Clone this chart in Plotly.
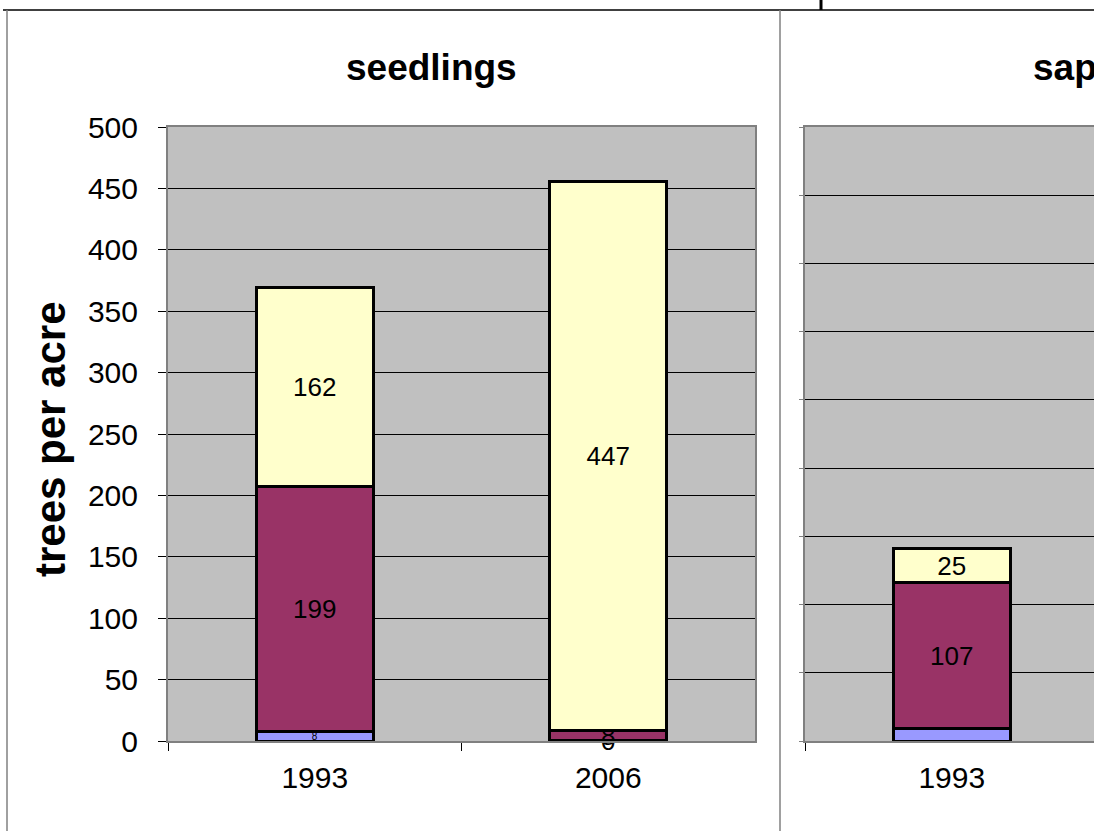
import plotly.graph_objects as go

# data
years = ["1993", "2006"]
seedlings_blue = [8, 0.4]
seedlings_maroon = [199, 8]
seedlings_yellow = [162, 447]

sapling_years = ["1993"]
saplings_blue = [9]
saplings_maroon = [107]
saplings_yellow = [25]

y_ticks_seedlings = [0, 50, 100, 150, 200, 250, 300, 350, 400, 450, 500]

BLUE = "#9999FF"
MAROON = "#993366"
YELLOW = "#FFFFCC"
FONT = "Arial, Liberation Sans, sans-serif"

W, H = 1094, 831


def px_x(v):
    return v / W


def px_y(v):
    return 1 - v / H


def bar(x, y, color, xaxis, yaxis, text, size):
    return go.Bar(
        x=x, y=y, xaxis=xaxis, yaxis=yaxis,
        marker=dict(color=color, line=dict(color="black", width=3)),
        width=0.4,
        text=text,
        textposition="inside",
        insidetextanchor="middle",
        constraintext="none",
        textangle=0,
        cliponaxis=False,
        textfont=dict(family=FONT, color="black", size=size),
        showlegend=False,
        hoverinfo="x+y",
    )


fig = go.Figure()
# seedlings panel
fig.add_trace(bar(years, seedlings_blue, BLUE, "x", "y",
                  [f"{v:.0f}" for v in seedlings_blue], [10, 26]))
fig.add_trace(bar(years, seedlings_maroon, MAROON, "x", "y",
                  [f"{v:.0f}" for v in seedlings_maroon], 26))
fig.add_trace(bar(years, seedlings_yellow, YELLOW, "x", "y",
                  [f"{v:.0f}" for v in seedlings_yellow], 26))
# saplings panel (cut off on the right)
fig.add_trace(bar(sapling_years, saplings_blue, BLUE, "x2", "y2", [""], 26))
fig.add_trace(bar(sapling_years, saplings_maroon, MAROON, "x2", "y2",
                  [f"{v:.0f}" for v in saplings_maroon], 26))
fig.add_trace(bar(sapling_years, saplings_yellow, YELLOW, "x2", "y2",
                  [f"{v:.0f}" for v in saplings_yellow], 26))

axis_common = dict(showline=True, linecolor="#808080", linewidth=2, mirror=True,
                   zeroline=False, automargin=False)

fig.update_layout(
    template="none",
    width=W, height=H,
    margin=dict(l=0, r=0, t=0, b=0, pad=0, autoexpand=False),
    barmode="stack",
    paper_bgcolor="white",
    plot_bgcolor="#C0C0C0",
    font=dict(family=FONT, color="black"),
    xaxis=dict(
        domain=[px_x(168), px_x(755)],
        type="category", categoryorder="array", categoryarray=years,
        range=[-0.5, 1.5],
        ticks="outside", ticklen=8, tickcolor="black", tickson="boundaries",
        tickfont=dict(size=30), ticklabelstandoff=9,
        showgrid=False, anchor="y", **axis_common,
    ),
    yaxis=dict(
        domain=[px_y(741), px_y(127)],
        range=[0, 500], tickvals=y_ticks_seedlings,
        ticks="outside", ticklen=8, tickcolor="black",
        tickfont=dict(size=30), ticklabelstandoff=14,
        showgrid=True, gridcolor="black", gridwidth=1,
        anchor="x", **axis_common,
    ),
    xaxis2=dict(
        domain=[px_x(805), 1],
        type="category", categoryorder="array", categoryarray=years,
        range=[-0.5, -0.5 + (W - 805) / 293.5],
        ticks="outside", ticklen=8, tickcolor="black", tickson="boundaries",
        tickfont=dict(size=30), ticklabelstandoff=9,
        showgrid=False, anchor="y2", **axis_common,
    ),
    yaxis2=dict(
        domain=[px_y(741), px_y(127)],
        range=[0, 450], dtick=50,
        ticks="outside", ticklen=4, tickcolor="#808080",
        showticklabels=False,
        showgrid=True, gridcolor="black", gridwidth=1,
        anchor="x2", **axis_common,
    ),
    annotations=[
        dict(text="<b>seedlings</b>", x=px_x(431), y=px_y(67), xref="paper", yref="paper",
             showarrow=False, font=dict(size=37), xanchor="center", yanchor="middle"),
        dict(text="<b>saplings</b>", x=px_x(1108), y=px_y(67), xref="paper", yref="paper",
             showarrow=False, font=dict(size=37), xanchor="center", yanchor="middle"),
        dict(text="<b>trees per acre</b>", x=px_x(50), y=px_y(439), xref="paper", yref="paper",
             showarrow=False, font=dict(size=42), textangle=-90,
             xanchor="center", yanchor="middle"),
    ],
    shapes=[
        dict(type="line", xref="paper", yref="paper", x0=px_x(3), x1=1,
             y0=px_y(10), y1=px_y(10), line=dict(color="black", width=1.5)),
        dict(type="line", xref="paper", yref="paper", x0=px_x(821), x1=px_x(821),
             y0=1, y1=px_y(10), line=dict(color="black", width=3)),
        dict(type="line", xref="paper", yref="paper", x0=px_x(7), x1=px_x(7),
             y0=px_y(10), y1=0, line=dict(color="#808080", width=1.5)),
        dict(type="line", xref="paper", yref="paper", x0=px_x(780), x1=px_x(780),
             y0=px_y(10), y1=0, line=dict(color="#808080", width=1.5)),
    ],
)

fig.write_html(
    "out.html",
    config={"displayModeBar": False},
    post_script="document.body.style.margin='0px';document.body.style.overflow='hidden';",
)
